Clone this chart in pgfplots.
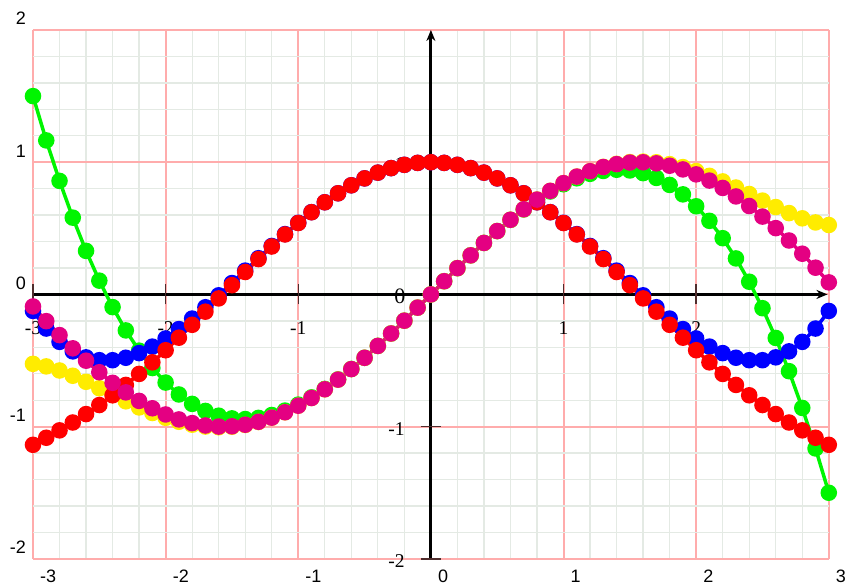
\documentclass[border=0pt]{standalone}
\usepackage{fontspec}
\setmainfont{Liberation Sans}
\newfontfamily\lserif{Liberation Serif}
\usepackage{pgfplots}
\usepackage{pgfplotstable}
\pgfplotsset{compat=1.18}
\usetikzlibrary{arrows.meta}
\definecolor{cgreen}{RGB}{0,245,0}
\definecolor{cyellow}{RGB}{255,236,0}
\definecolor{cblue}{RGB}{0,0,255}
\definecolor{cred}{RGB}{255,0,0}
\definecolor{cmag}{RGB}{228,0,130}
\definecolor{gridpink}{RGB}{255,172,172}
\definecolor{gridminor}{RGB}{228,234,228}
\definecolor{tickc}{RGB}{80,45,45}
\tikzset{ilab/.style={inner sep=0pt, font=\lserif\fontsize{19.5}{21}\selectfont}}

\pgfplotstableread{
x g b y r m
-3.0 1.5000 -0.1250 -0.5250 -1.1375 -0.0911
-2.9 1.1648 -0.2580 -0.5444 -1.0841 -0.2022
-2.8 0.8587 -0.3589 -0.5755 -1.0282 -0.3078
-2.7 0.5805 -0.4307 -0.6152 -0.9687 -0.4077
-2.6 0.3293 -0.4759 -0.6608 -0.9050 -0.5014
-2.5 0.1042 -0.4974 -0.7096 -0.8365 -0.5885
-2.4 -0.0960 -0.4976 -0.7596 -0.7630 -0.6686
-2.3 -0.2722 -0.4790 -0.8085 -0.6846 -0.7410
-2.2 -0.4253 -0.4439 -0.8548 -0.6014 -0.8053
-2.1 -0.5565 -0.3947 -0.8968 -0.5138 -0.8611
-2.0 -0.6667 -0.3333 -0.9333 -0.4222 -0.9079
-1.9 -0.7568 -0.2620 -0.9632 -0.3273 -0.9454
-1.8 -0.8280 -0.1826 -0.9855 -0.2298 -0.9733
-1.7 -0.8812 -0.0970 -0.9995 -0.1305 -0.9913
-1.6 -0.9173 -0.0069 -1.0047 -0.0302 -0.9994
-1.5 -0.9375 0.0859 -1.0008 0.0701 -0.9974
-1.4 -0.9427 0.1801 -0.9875 0.1696 -0.9854
-1.3 -0.9338 0.2740 -0.9648 0.2673 -0.9635
-1.2 -0.9120 0.3664 -0.9327 0.3623 -0.9320
-1.1 -0.8782 0.4560 -0.8916 0.4535 -0.8912
-1.0 -0.8333 0.5417 -0.8417 0.5403 -0.8415
-0.9 -0.7785 0.6223 -0.7834 0.6216 -0.7833
-0.8 -0.7147 0.6971 -0.7174 0.6967 -0.7174
-0.7 -0.6428 0.7650 -0.6442 0.7648 -0.6442
-0.6 -0.5640 0.8254 -0.5646 0.8253 -0.5646
-0.5 -0.4792 0.8776 -0.4794 0.8776 -0.4794
-0.4 -0.3893 0.9211 -0.3894 0.9211 -0.3894
-0.3 -0.2955 0.9553 -0.2955 0.9553 -0.2955
-0.2 -0.1987 0.9801 -0.1987 0.9801 -0.1987
-0.1 -0.0998 0.9950 -0.0998 0.9950 -0.0998
0.0 0.0000 1.0000 0.0000 1.0000 0.0000
0.1 0.0998 0.9950 0.0998 0.9950 0.0998
0.2 0.1987 0.9801 0.1987 0.9801 0.1987
0.3 0.2955 0.9553 0.2955 0.9553 0.2955
0.4 0.3893 0.9211 0.3894 0.9211 0.3894
0.5 0.4792 0.8776 0.4794 0.8776 0.4794
0.6 0.5640 0.8254 0.5646 0.8253 0.5646
0.7 0.6428 0.7650 0.6442 0.7648 0.6442
0.8 0.7147 0.6971 0.7174 0.6967 0.7174
0.9 0.7785 0.6223 0.7834 0.6216 0.7833
1.0 0.8333 0.5417 0.8417 0.5403 0.8415
1.1 0.8782 0.4560 0.8916 0.4535 0.8912
1.2 0.9120 0.3664 0.9327 0.3623 0.9320
1.3 0.9338 0.2740 0.9648 0.2673 0.9635
1.4 0.9427 0.1801 0.9875 0.1696 0.9854
1.5 0.9375 0.0859 1.0008 0.0701 0.9974
1.6 0.9173 -0.0069 1.0047 -0.0302 0.9994
1.7 0.8812 -0.0970 0.9995 -0.1305 0.9913
1.8 0.8280 -0.1826 0.9855 -0.2298 0.9733
1.9 0.7568 -0.2620 0.9632 -0.3273 0.9454
2.0 0.6667 -0.3333 0.9333 -0.4222 0.9079
2.1 0.5565 -0.3947 0.8968 -0.5138 0.8611
2.2 0.4253 -0.4439 0.8548 -0.6014 0.8053
2.3 0.2722 -0.4790 0.8085 -0.6846 0.7410
2.4 0.0960 -0.4976 0.7596 -0.7630 0.6686
2.5 -0.1042 -0.4974 0.7096 -0.8365 0.5885
2.6 -0.3293 -0.4759 0.6608 -0.9050 0.5014
2.7 -0.5805 -0.4307 0.6152 -0.9687 0.4077
2.8 -0.8587 -0.3589 0.5755 -1.0282 0.3078
2.9 -1.1648 -0.2580 0.5444 -1.0841 0.2022
3.0 -1.5000 -0.1250 0.5250 -1.1375 0.0911
}\taylor

\begin{document}
\begin{tikzpicture}
\begin{axis}[
  name=ax, at={(0,0)}, anchor=south west,
  scale only axis, width=796pt, height=529pt,
  xmin=-3, xmax=3, ymin=-2, ymax=2,
  clip=false,
  axis line style={draw=none},
  xtick={-3,-2,-1,0,1,2,3}, ytick={-2,-1,0,1,2},
  minor tick num=4,
  major tick length=0pt, minor tick length=0pt,
  grid=both,
  major grid style={draw=gridpink, line width=2pt},
  minor grid style={draw=gridminor, line width=1.3pt},
  xticklabels={-3,-2,-1,0,1,2,3},
  yticklabels={-2,-1,0,1,2},
  xticklabel style={anchor=north west, inner sep=0pt, xshift=7pt, yshift=-11pt, font=\fontsize{18}{20}\selectfont},
  yticklabel style={anchor=south east, inner sep=0pt, xshift=-7pt, yshift=5pt, font=\fontsize{18}{20}\selectfont},
  every axis plot/.append style={line width=3.5pt, mark=*, mark size=6.5pt},
]
% central axes
\draw[black, line width=3pt, -{Stealth[length=11pt,width=9pt]}] (axis cs:-3,0) -- (axis cs:2.99,0);
\draw[black, line width=3pt, -{Stealth[length=11pt,width=9pt]}] (axis cs:0,-2) -- (axis cs:0,2);
% axis ticks
\draw[tickc, line width=1.5pt] ([yshift=-10pt]axis cs:-3,0) -- ([yshift=10pt]axis cs:-3,0);
\draw[tickc, line width=1.5pt] ([yshift=-10pt]axis cs:-2,0) -- ([yshift=10pt]axis cs:-2,0);
\draw[tickc, line width=1.5pt] ([yshift=-10pt]axis cs:-1,0) -- ([yshift=10pt]axis cs:-1,0);
\draw[tickc, line width=1.5pt] ([yshift=-10pt]axis cs:1,0) -- ([yshift=10pt]axis cs:1,0);
\draw[tickc, line width=1.5pt] ([yshift=-10pt]axis cs:2,0) -- ([yshift=10pt]axis cs:2,0);
\draw[tickc, line width=1.5pt] ([xshift=-10pt]axis cs:0,1) -- ([xshift=10pt]axis cs:0,1);
\draw[tickc, line width=1.5pt] ([xshift=-10pt]axis cs:0,-1) -- ([xshift=10pt]axis cs:0,-1);
\draw[tickc, line width=1.5pt] ([xshift=-10pt]axis cs:0,-2) -- ([xshift=10pt]axis cs:0,-2);
% inner labels
\node[ilab, anchor=north, yshift=-27pt] at (axis cs:-3,0) {-3};
\node[ilab, anchor=north, yshift=-27pt] at (axis cs:-2,0) {-2};
\node[ilab, anchor=north, yshift=-27pt] at (axis cs:-1,0) {-1};
\node[ilab, anchor=north, yshift=-27pt] at (axis cs:1,0) {1};
\node[ilab, anchor=north, yshift=-27pt] at (axis cs:2,0) {2};
\node[ilab, anchor=east, xshift=-26pt, yshift=-2pt] at (axis cs:0,1) {1};
\node[ilab, anchor=east, xshift=-26pt, yshift=-2pt] at (axis cs:0,-1) {-1};
\node[ilab, anchor=east, xshift=-26pt, yshift=-2pt] at (axis cs:0,-2) {-2};
\node[ilab, anchor=center, xshift=-31pt, yshift=-2pt, font=\lserif\fontsize{22}{24}\selectfont] at (axis cs:0,0) {0};
% series
\addplot[color=cgreen, mark options={draw=none, fill=cgreen}] table[x=x, y=g] {\taylor};
\addplot[color=cblue, mark options={draw=none, fill=cblue}] table[x=x, y=b] {\taylor};
\addplot[color=cyellow, mark options={draw=none, fill=cyellow}] table[x=x, y=y] {\taylor};
\addplot[color=cred, mark options={draw=none, fill=cred}] table[x=x, y=r] {\taylor};
\addplot[color=cmag, mark options={draw=none, fill=cmag}] table[x=x, y=m] {\taylor};
\end{axis}
\path (ax.south west) ++(-33pt,-26pt);
\path (ax.north east) ++(17pt,30pt);
\end{tikzpicture}
\end{document}
